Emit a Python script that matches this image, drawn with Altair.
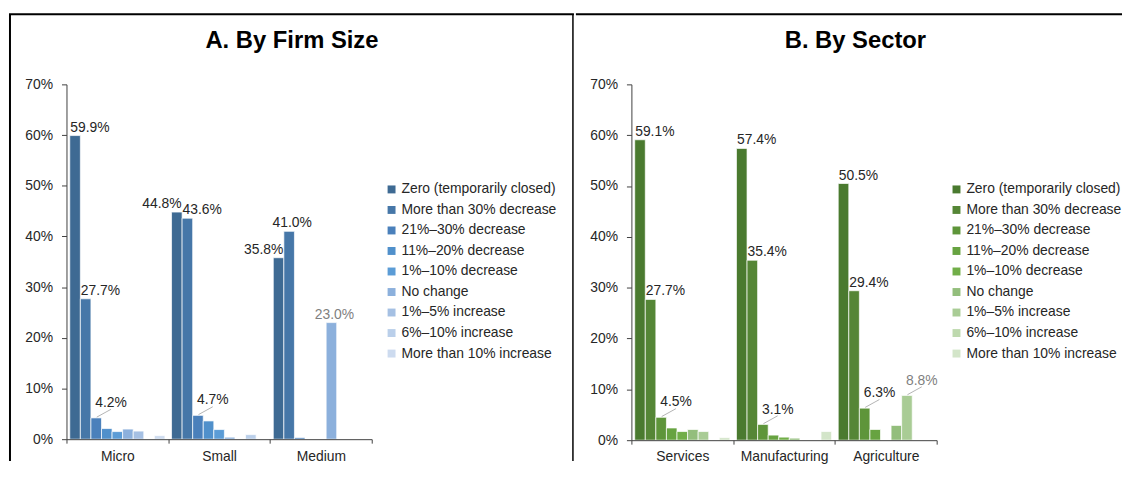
import altair as alt
import pandas as pd

# ---------------- data ----------------
SERIES = [
    "Zero (temporarily closed)",
    "More than 30% decrease",
    "21%–30% decrease",
    "11%–20% decrease",
    "1%–10% decrease",
    "No change",
    "1%–5% increase",
    "6%–10% increase",
    "More than 10% increase",
]

BLUES = ["#3e6a93", "#4677a8", "#4a80bb", "#5090cb", "#5b9cd6",
         "#8cb0dc", "#a5c0e3", "#bacfea", "#cddbef"]
GREENS = ["#4a7a2f", "#558636", "#5e953a", "#67a341", "#71ae48",
          "#93be7c", "#a9cc95", "#bed9ae", "#d3e5c9"]

FIRM_SIZES = ["Micro", "Small", "Medium"]
MICRO = [59.9, 27.7, 4.2, 2.1, 1.5, 2.0, 1.6, 0.0, 0.7]
SMALL = [44.8, 43.6, 4.7, 3.6, 1.9, 0.4, 0.0, 0.9, 0.0]
MEDIUM = [35.8, 41.0, 0.3, 0.0, 0.0, 23.0, 0.0, 0.0, 0.0]

SECTORS = ["Services", "Manufacturing", "Agriculture"]
SERVICES = [59.1, 27.7, 4.5, 2.4, 1.7, 2.1, 1.7, 0.0, 0.5]
MANUFACTURING = [57.4, 35.4, 3.1, 1.0, 0.6, 0.4, 0.0, 0.0, 1.7]
AGRICULTURE = [50.5, 29.4, 6.3, 2.1, 0.0, 2.9, 8.8, 0.0, 0.0]

Y_TICKS = [0, 10, 20, 30, 40, 50, 60, 70]

TITLE_A = "A. By Firm Size"
TITLE_B = "B. By Sector"

# which bars carry a value label, and how the label sits
LABELS_A = [("Micro", 0, "left"), ("Micro", 1, "left"), ("Micro", 2, "leader"),
            ("Small", 0, "right"), ("Small", 1, "left"), ("Small", 2, "leader"),
            ("Medium", 0, "right"), ("Medium", 1, "center"), ("Medium", 5, "center")]
LABELS_B = [("Services", 0, "left"), ("Services", 1, "left"), ("Services", 2, "leader"),
            ("Manufacturing", 0, "left"), ("Manufacturing", 1, "left"), ("Manufacturing", 2, "leader"),
            ("Agriculture", 0, "left"), ("Agriculture", 1, "left"), ("Agriculture", 2, "leader"),
            ("Agriculture", 6, "leader")]

# ---------------- layout ----------------
G = 9.625      # slot units per category group
PAD = 0.3125   # gap at each side of a group, in slot units
PW = 308
PH = 358
FONT = "Liberation Sans"
TXT = "#262626"
AX = "#404040"


def build_frame(groups, series_values):
    rows = []
    for gi, (g, vals) in enumerate(zip(groups, series_values)):
        for si, (s, v) in enumerate(zip(SERIES, vals)):
            x0 = gi * G + PAD + si
            rows.append(dict(group=g, series=s, value=v, si=si, base=0.0,
                             x0=x0, x1=x0 + 1, xc=x0 + 0.5, label=f"{v:.1f}%"))
    return pd.DataFrame(rows)


def const_df():
    return pd.DataFrame({"k": [0]})


def panel(title, title_x, groups, series_values, colors, labels,
          left_x, top_x2, divider_x, height):
    df = build_frame(groups, series_values)
    lab_rows = []
    for g, si, style in labels:
        r = df[(df.group == g) & (df.si == si)].iloc[0].to_dict()
        r["style"] = style
        lab_rows.append(r)
    lab = pd.DataFrame(lab_rows)

    xmax = len(groups) * G
    xs = alt.Scale(domain=[0, xmax], nice=False, zero=False)
    ys = alt.Scale(domain=[0, 70], nice=False)
    names_js = "[" + ",".join(f"'{g}'" for g in groups) + "]"

    x_axis = alt.Axis(
        values=[i * G for i in range(len(groups) + 1)],
        labelExpr=f"{names_js}[round(datum.value/{G})] || ''",
        labelOffset=PW / len(groups) / 2, labelAlign="center",
        labelFlush=False, labelBound=False, labelOverlap=False,
        tickSize=4, labelPadding=6, title=None, grid=False,
        labelFontSize=14, labelColor=TXT, labelFont=FONT,
        domainColor=AX, tickColor=AX, zindex=1)
    y_axis = alt.Axis(
        values=Y_TICKS, labelExpr="datum.value + '%'",
        tickSize=5, labelPadding=9, title=None, grid=False,
        labelFontSize=14, labelColor=TXT, labelFont=FONT,
        domainColor=AX, tickColor=AX, zindex=1)

    bars = alt.Chart(df).transform_filter("datum.value > 0").mark_bar(
        stroke="white", strokeWidth=0.7
    ).encode(
        x=alt.X("x0:Q", scale=xs, axis=x_axis),
        x2="x1:Q",
        y=alt.Y("value:Q", scale=ys, axis=y_axis),
        y2="base:Q",
        color=alt.Color("series:N", scale=alt.Scale(domain=SERIES, range=colors),
                        legend=alt.Legend(
                            orient="none", legendX=321, legendY=99, title=None,
                            symbolType="square", symbolSize=64, symbolStrokeWidth=0,
                            labelFontSize=14, labelFont=FONT, labelColor=TXT,
                            rowPadding=6.7, labelLimit=300, labelOffset=3,
                            padding=0)),
    )

    tcolor = alt.condition("datum.si >= 5", alt.value("#7f7f7f"), alt.value(TXT))
    tkw = dict(fontSize=14, font=FONT, baseline="alphabetic")

    t_left = alt.Chart(lab).transform_filter("datum.style == 'left'").mark_text(
        align="left", dx=0.5, dy=-4, **tkw).encode(
        x=alt.X("x0:Q", scale=xs), y=alt.Y("value:Q", scale=ys), text="label:N", color=tcolor)
    t_right = alt.Chart(lab).transform_filter("datum.style == 'right'").mark_text(
        align="right", dx=-0.5, dy=-4, **tkw).encode(
        x=alt.X("x1:Q", scale=xs), y=alt.Y("value:Q", scale=ys), text="label:N", color=tcolor)
    t_center = alt.Chart(lab).transform_filter("datum.style == 'center'").mark_text(
        align="center", dx=3, dy=-4, **tkw).encode(
        x=alt.X("xc:Q", scale=xs), y=alt.Y("value:Q", scale=ys), text="label:N", color=tcolor)
    t_leader = alt.Chart(lab).transform_filter("datum.style == 'leader'").mark_text(
        align="center", dx=15, dy=-11, **tkw).encode(
        x=alt.X("xc:Q", scale=xs), y=alt.Y("value:Q", scale=ys), text="label:N", color=tcolor)
    leader_lines = alt.Chart(lab).transform_filter("datum.style == 'leader'").transform_calculate(
        lx1="datum.xc + 0.05", lx2="datum.xc + 1.4",
        ly1="datum.value + 0.15", ly2="datum.value + 1.7"
    ).mark_rule(color="#a0a0a0", strokeWidth=0.8).encode(
        x=alt.X("lx1:Q", scale=xs), x2="lx2:Q",
        y=alt.Y("ly1:Q", scale=ys), y2="ly2:Q")

    # panel frame and heading
    top = -70.7
    bottom = 380
    frame_top = alt.Chart(const_df()).mark_rule(color="black", strokeWidth=2, strokeCap="square").encode(
        x=alt.value(left_x), x2=alt.value(top_x2), y=alt.value(top), y2=alt.value(top))
    layers = [bars, leader_lines, t_left, t_right, t_center, t_leader, frame_top]
    if left_x < -56:
        layers.append(alt.Chart(const_df()).mark_rule(color="black", strokeWidth=2).encode(
            x=alt.value(left_x), x2=alt.value(left_x), y=alt.value(top), y2=alt.value(bottom)))
    if divider_x is not None:
        layers.append(alt.Chart(const_df()).mark_rule(color="black", strokeWidth=1.5).encode(
            x=alt.value(divider_x), x2=alt.value(divider_x), y=alt.value(top), y2=alt.value(bottom)))
    heading = alt.Chart(const_df()).mark_text(
        fontSize=24, fontWeight="bold", font=FONT, color="black",
        align="center", baseline="alphabetic").encode(
        x=alt.value(title_x), y=alt.value(-36.5), text=alt.value(title))
    layers.append(heading)

    return alt.layer(*layers).properties(width=PW, height=height)


panel_a = panel(TITLE_A, 227.5, FIRM_SIZES, [MICRO, SMALL, MEDIUM], BLUES, LABELS_A,
                left_x=-57, top_x2=511, divider_x=511, height=PH)
panel_b = panel(TITLE_B, 226.0, SECTORS, [SERVICES, MANUFACTURING, AGRICULTURE], GREENS, LABELS_B,
                left_x=-55, top_x2=494, divider_x=None, height=PH + 1)

chart = alt.hconcat(panel_a, panel_b, spacing=0).resolve_scale(
    color="independent", x="independent", y="independent"
).properties(
    padding={"left": 0, "top": 2, "right": 0, "bottom": 0}
).configure(font=FONT, view=alt.ViewConfig(stroke="transparent"))

chart.save("out.html", embed_options={"renderer": "svg", "actions": False})
